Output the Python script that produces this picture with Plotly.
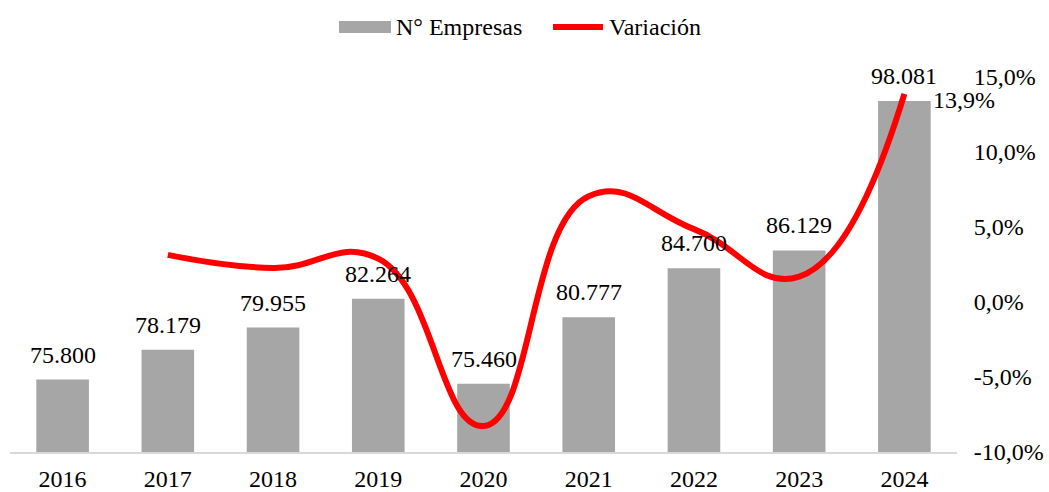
import plotly.graph_objects as go

years = ["2016", "2017", "2018", "2019", "2020", "2021", "2022", "2023", "2024"]
empresas = [75800, 78179, 79955, 82264, 75460, 80777, 84700, 86129, 98081]
var_years = ["2017", "2018", "2019", "2020", "2021", "2022", "2023", "2024"]
variacion = [0.0314, 0.0227, 0.0289, -0.0827, 0.0705, 0.0486, 0.0169, 0.1388]
var_label = "13,9%"
right_ticks = [-0.10, -0.05, 0.0, 0.05, 0.10, 0.15]
right_tick_text = ["-10,0%", "-5,0%", "0,0%", "5,0%", "10,0%", "15,0%"]
legend_names = ["N° Empresas", "Variación"]

FONT = "Liberation Serif, Times New Roman, serif"
FS = 24
BAR_COLOR = "#a6a6a6"
LINE_COLOR = "#ff0000"

W, H = 1049, 492
ML, MR, MT, MB = 10, 92, 77, 40

bar_text = [f"{v:,}".replace(",", ".") for v in empresas]
year_idx = {y: i for i, y in enumerate(years)}

fig = go.Figure()
fig.add_trace(go.Bar(
    x=years, y=empresas, name=legend_names[0], showlegend=False,
    marker=dict(color=BAR_COLOR, line=dict(width=0)),
))
fig.add_trace(go.Scatter(
    x=var_years, y=variacion, name=legend_names[1], yaxis="y2",
    mode="lines", showlegend=False,
    line=dict(color=LINE_COLOR, width=6, shape="spline", smoothing=1.3),
))

# bar value labels
for y, v, t in zip(years, empresas, bar_text):
    fig.add_annotation(
        x=year_idx[y], y=v, xref="x", yref="y", text=t, showarrow=False,
        xanchor="center", yanchor="bottom", yshift=10,
        font=dict(size=FS, color="black", family=FONT),
    )

# last variation label
fig.add_annotation(
    x=year_idx[var_years[-1]], y=variacion[-1], xref="x", yref="y2",
    text=var_label, showarrow=False, xanchor="left", yanchor="middle",
    xshift=27, yshift=-6,
    font=dict(size=FS, color="black", family=FONT),
)

# custom legend (wide swatches as in the reference)
def px_x(p):
    return (p - ML) / (W - ML - MR)

def px_y(p):
    return 1 - (p - MT) / (H - MT - MB)

fig.add_shape(type="rect", xref="paper", yref="paper",
              x0=px_x(339), x1=px_x(391), y0=px_y(33), y1=px_y(21),
              fillcolor=BAR_COLOR, line=dict(width=0))
fig.add_annotation(xref="paper", yref="paper", x=px_x(394), y=px_y(27),
                   text=legend_names[0], showarrow=False, xanchor="left",
                   yanchor="middle", font=dict(size=FS, color="black", family=FONT))
fig.add_shape(type="line", xref="paper", yref="paper",
              x0=px_x(553), x1=px_x(603), y0=px_y(27), y1=px_y(27),
              line=dict(color=LINE_COLOR, width=6))
fig.add_annotation(xref="paper", yref="paper", x=px_x(607), y=px_y(27),
                   text=legend_names[1], showarrow=False, xanchor="left",
                   yanchor="middle", font=dict(size=FS, color="black", family=FONT))

fig.update_layout(
    width=W, height=H,
    margin=dict(l=ML, r=MR, t=MT, b=MB, autoexpand=False),
    paper_bgcolor="white", plot_bgcolor="white",
    font=dict(family=FONT, size=FS, color="black"),
    bargap=0.5,
    showlegend=False,
    xaxis=dict(type="category", categoryorder="array", categoryarray=years,
               range=[-0.5, len(years) - 0.5], automargin=False,
               showgrid=False, showline=True, linecolor="#d9d9d9", linewidth=2,
               ticks="outside", ticklen=4, tickcolor="rgba(0,0,0,0)",
               tickfont=dict(size=FS, family=FONT)),
    yaxis=dict(visible=False, range=[70000, 100000]),
    yaxis2=dict(overlaying="y", side="right", range=[-0.10, 0.15],
                tickvals=right_ticks, ticktext=right_tick_text, automargin=False,
                ticks="outside", ticklen=11, tickcolor="rgba(0,0,0,0)",
                showgrid=False, zeroline=False, showline=False,
                tickfont=dict(size=FS, family=FONT)),
)

fig.write_html(
    "out.html",
    config={"displayModeBar": False},
    post_script="document.body.style.margin='0';document.body.style.overflow='hidden';",
)
